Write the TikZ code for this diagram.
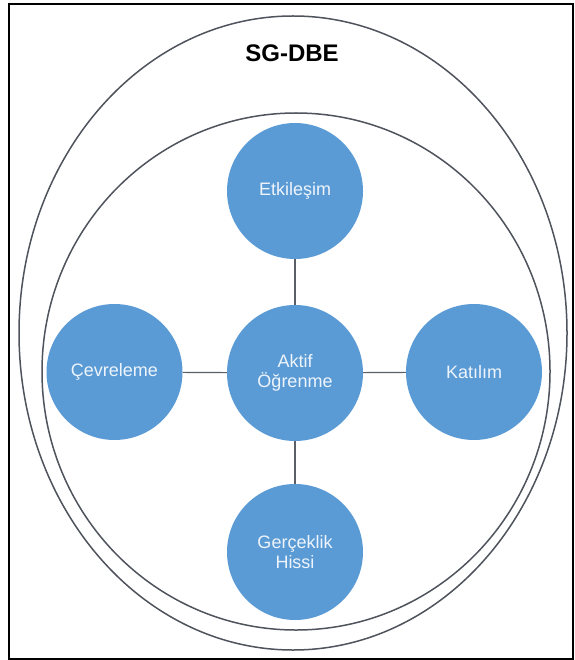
\documentclass[tikz,border=0pt]{standalone}
\usepackage{fontspec}
\setmainfont{Liberation Sans}
\definecolor{bubbleblue}{HTML}{5B9BD5}
\definecolor{bubbletext}{HTML}{EEF4FB}
\definecolor{ringgray}{HTML}{4E535C}
\definecolor{linkgray}{HTML}{5A5F66}
\begin{document}
\begin{tikzpicture}[x=1pt,y=-1pt,
  bubble/.style={circle, fill=bubbleblue, minimum size=136pt, inner sep=0pt,
    text=bubbletext, align=center, font=\fontsize{18}{20}\selectfont},
  link/.style={draw=linkgray, line width=1.2pt},
  ring/.style={draw=ringgray, line width=1.5pt},
  frame/.style={draw=black, line width=1.5pt}]
\useasboundingbox (0,0) rectangle (574,660);
% surrounding frame
\draw[frame] (9,4) rectangle (573,659);
% outer and inner boundaries
\draw[ring] (293,333) ellipse [x radius=274, y radius=317];
\draw[ring] (296,371.5) ellipse [x radius=254, y radius=258.5];
% title
\node (title) at (292,53) {\fontsize{24}{26}\selectfont\bfseries SG-DBE};
% bubbles
\node[bubble] (aktif) at (295,373) {Aktif\\Öğrenme};
\node[bubble] (etk) at (295,191) {Etkileşim};
\node[bubble] (cev) at (114.5,372) {Çevreleme};
\node[bubble] (kat) at (474,372) {Katılım};
\node[bubble] (ger) at (295,552) {Gerçeklik\\Hissi};
% connectors
\draw[link] (aktif) -- (etk);
\draw[link] (aktif) -- (cev);
\draw[link] (aktif) -- (kat);
\draw[link] (aktif) -- (ger);
\end{tikzpicture}
\end{document}
